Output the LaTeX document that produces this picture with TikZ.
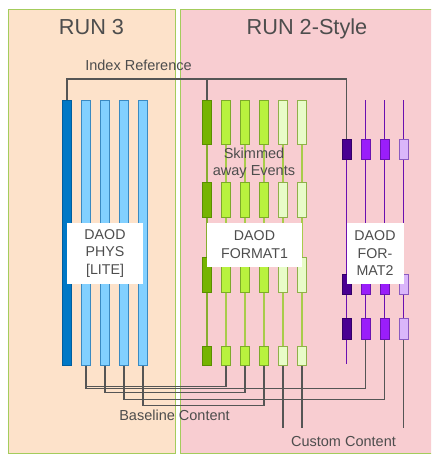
\documentclass[tikz,border=0pt]{standalone}
\usepackage{fontspec}
\setmainfont{Liberation Sans}
\definecolor{peach}{HTML}{FDE2CA}
\definecolor{pinkbg}{HTML}{F8CDD1}
\definecolor{panelgreen}{HTML}{A4CC5C}
\definecolor{textgray}{HTML}{4D4D4D}
\definecolor{linegray}{HTML}{555555}
\definecolor{bluedark}{HTML}{0078C6}
\definecolor{bluedarkb}{HTML}{005E9E}
\definecolor{bluelight}{HTML}{82D0FF}
\definecolor{bluelightb}{HTML}{3A8AC2}
\definecolor{gdarkf}{HTML}{76B400}
\definecolor{gdarkb}{HTML}{5A8E00}
\definecolor{glimef}{HTML}{B9F23E}
\definecolor{glimeb}{HTML}{7DAA2A}
\definecolor{gpalef}{HTML}{E8FCC8}
\definecolor{gpaleb}{HTML}{8FB04A}
\definecolor{gline}{HTML}{A8CC4A}
\definecolor{glinedark}{HTML}{86AE2E}
\definecolor{pdarkf}{HTML}{4A0092}
\definecolor{pdarkb}{HTML}{330066}
\definecolor{pmidf}{HTML}{9A1EFA}
\definecolor{pmidb}{HTML}{6A14B0}
\definecolor{plightf}{HTML}{DAB6FA}
\definecolor{plightb}{HTML}{8A5AC0}
\definecolor{pline}{HTML}{6A10B0}
\begin{document}
\begin{tikzpicture}[x=1pt,y=-1pt,
  panel/.style={draw=panelgreen, line width=0.9pt, anchor=north west, inner sep=0pt, outer sep=0pt},
  barbase/.style={line width=0.8pt, minimum width=9pt, inner sep=0pt, anchor=north},
  bdark/.style={barbase, fill=bluedark, draw=bluedarkb},
  blight/.style={barbase, fill=bluelight, draw=bluelightb},
  gdark/.style={barbase, fill=gdarkf, draw=gdarkb},
  glime/.style={barbase, fill=glimef, draw=glimeb},
  gpale/.style={barbase, fill=gpalef, draw=gpaleb},
  pdark/.style={barbase, fill=pdarkf, draw=pdarkb},
  pmid/.style={barbase, fill=pmidf, draw=pmidb},
  plight/.style={barbase, fill=plightf, draw=plightb},
  graylink/.style={draw=linegray, line width=1.2pt},
  glink/.style={draw=gline, line width=1.2pt},
  glinkdark/.style={draw=glinedark, line width=1.2pt},
  plink/.style={draw=pline, line width=1.2pt},
  wbox/.style={fill=white, inner sep=0pt, align=center, text=textgray,
    font=\fontsize{14.2}{17.5}\selectfont},
  lbl/.style={text=textgray, inner sep=0pt, anchor=base, font=\fontsize{14.5}{17.5}\selectfont},
  ttl/.style={text=textgray, inner sep=0pt, anchor=base, font=\fontsize{21.7}{26}\selectfont}
]
\path[use as bounding box] (0,0) rectangle (431,454);
\clip (0,0) rectangle (431,454);

% panels
\node[panel, fill=peach, minimum width=167pt, minimum height=444pt] (run3) at (8,9) {};
\node[panel, fill=pinkbg, minimum width=256pt, minimum height=444pt] (run2) at (180,9) {};
\node[ttl] (t3) at (91.5,35) {RUN 3};
\node[ttl] (t2) at (307,35) {RUN 2-Style};

% blue bars
\node[bdark, minimum height=265pt] (db) at (67,100) {};
\foreach \i/\x in {1/86,2/105,3/124,4/143}
  \node[blight, minimum height=265pt] (lb\i) at (\x,100) {};

% green bars
\foreach \i/\x/\st in {1/207/gdark,2/226/glime,3/245/glime,4/264/glime,5/283/gpale,6/302/gpale} {
  \node[\st, minimum height=44pt] (g\i-a) at (\x,100) {};
  \node[\st, minimum height=35pt] (g\i-b) at (\x,182) {};
  \node[\st, minimum height=35pt] (g\i-c) at (\x,257) {};
  \node[\st, minimum height=19pt] (g\i-d) at (\x,346) {};
}
% purple bars
\foreach \i/\x/\st in {1/346.5/pdark,2/365.5/pmid,3/384.5/pmid,4/403.5/plight} {
  \node[\st, minimum height=20pt] (p\i-a) at (\x,139) {};
  \node[\st, minimum height=20pt] (p\i-b) at (\x,274) {};
  \node[\st, minimum height=21pt] (p\i-c) at (\x,318) {};
}

% green connectors
\draw[glinkdark] (g1-a.south) -- (g1-b.north) (g1-b.south) -- (g1-c.north) (g1-c.south) -- (g1-d.north);
\foreach \i in {2,...,6}
  \draw[glink] (g\i-a.south) -- (g\i-b.north) (g\i-b.south) -- (g\i-c.north) (g\i-c.south) -- (g\i-d.north);

% purple connectors
\foreach \i in {1,...,4}
  \draw[plink] (p\i-a.south) -- (p\i-b.north) (p\i-b.south) -- (p\i-c.north);
\foreach \i in {2,3,4}
  \draw[plink] (p\i-a.north) -- ++(0,-39);
\draw[plink] (p1-c.south) -- ++(0,24);

% index reference
\draw[graylink] (db.north) -- ++(0,-21) -| (p1-a.north);
\draw[graylink] (g1-a.north) -- ++(0,-21);

% baseline content links
\draw[graylink] (lb1.south) -- ++(0,21) -| (g2-d.south);
\draw[graylink] (lb1.south) -- ++(0,23) -| (p2-c.south);
\draw[graylink] (lb2.south) -- ++(0,27) -| (g3-d.south);
\draw[graylink] (lb3.south) -- ++(0,34) -| (p3-c.south);
\draw[graylink] (lb4.south) -- ++(0,40) -| (g4-d.south);

% custom content links
\draw[graylink] (g5-d.south) -- ++(0,62);
\draw[graylink] (g6-d.south) -- ++(0,62);
\draw[graylink] (p4-c.south) -- ++(0,88);

% white boxes
\node[wbox, minimum width=76pt, minimum height=61.5pt] (phys) at (105,253.25) {DAOD\\PHYS\\{}[LITE]};
\node[wbox, minimum width=95pt, minimum height=44.5pt] (fmt1) at (254.5,244.75) {DAOD\\FORMAT1};
\node[wbox, minimum width=57pt, minimum height=61.5pt] (fmt2) at (375,253.25) {DAOD\\FOR-\\MAT2};

% labels
\node[lbl] (idx) at (138.5,71) {Index Reference};
\node[lbl, anchor=center, align=center] (skim) at (254,163.5) {Skimmed\\away Events};
\node[lbl] (base) at (174.5,420) {Baseline Content};
\node[lbl] (cust) at (343.5,446.5) {Custom Content};
\end{tikzpicture}
\end{document}
